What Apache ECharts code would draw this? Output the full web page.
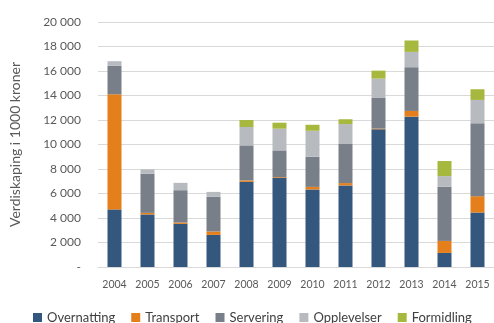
<!DOCTYPE html>
<html>
<head>
<meta charset="utf-8">
<script src="https://cdn.jsdelivr.net/npm/echarts@6/dist/echarts.min.js"></script>
<style>
  html, body { margin: 0; padding: 0; background: #fff; }
  #chart { width: 494px; height: 323px; }
</style>
</head>
<body>
<div id="chart"></div>
<script>
// Value added per sector, in 1000 NOK
const years = ['2004', '2005', '2006', '2007', '2008', '2009', '2010', '2011', '2012', '2013', '2014', '2015'];
const overnatting = [4700, 4290, 3520, 2620, 6950, 7280, 6330, 6660, 11240, 12270, 1150, 4450];
const transport   = [9400, 130, 110, 280, 120, 60, 210, 190, 60, 470, 980, 1330];
const servering   = [2320, 3190, 2640, 2830, 2860, 2180, 2460, 3190, 2500, 3570, 4420, 5950];
const opplevelser = [380, 360, 600, 400, 1500, 1770, 2120, 1630, 1580, 1250, 870, 1910];
const formidling  = [0, 0, 0, 0, 570, 490, 490, 390, 650, 930, 1230, 870];

const seriesDefs = [
  { name: 'Overnatting', data: overnatting, color: '#34577e' },
  { name: 'Transport',   data: transport,   color: '#e47f1b' },
  { name: 'Servering',   data: servering,   color: '#787f88' },
  { name: 'Opplevelser', data: opplevelser, color: '#b7bbc0' },
  { name: 'Formidling',  data: formidling,  color: '#a6b83d' }
];

const fontFamily = 'Lato, "Open Sans", sans-serif';

// Norwegian style: space as thousands separator, dash for zero
function formatThousands(v) {
  if (v === 0) return '-';
  return String(v).replace(/\B(?=(\d{3})+(?!\d))/g, ' ');
}

const chart = echarts.init(document.getElementById('chart'), null, { renderer: 'canvas' });
chart.setOption({
  animation: false,
  textStyle: { fontFamily: fontFamily },
  grid: { left: 96, width: 402, top: 22, bottom: 56 },
  legend: {
    top: 306,
    left: 28,
    itemWidth: 9,
    itemHeight: 9,
    itemGap: 16,
    icon: 'rect',
    textStyle: { fontSize: 13, color: '#404040', fontFamily: fontFamily },
    data: seriesDefs.map(s => s.name)
  },
  xAxis: {
    type: 'category',
    data: years,
    axisTick: { show: false },
    axisLine: { show: true, lineStyle: { color: '#d9d9d9' } },
    axisLabel: { color: '#595959', fontSize: 10.5, margin: 12, interval: 0 }
  },
  yAxis: {
    type: 'value',
    min: 0,
    max: 20000,
    interval: 2000,
    name: 'Verdiskaping i 1000 kroner',
    nameLocation: 'middle',
    nameGap: 76,
    nameRotate: 90,
    nameTextStyle: { fontSize: 14, color: '#595959' },
    axisLine: { show: false },
    axisTick: { show: false },
    splitLine: { lineStyle: { color: '#d9d9d9', width: 1 } },
    axisLabel: {
      color: '#595959',
      fontSize: 12,
      margin: 17,
      formatter: formatThousands
    }
  },
  series: seriesDefs.map(s => ({
    name: s.name,
    type: 'bar',
    stack: 'total',
    barWidth: 14,
    data: s.data,
    itemStyle: { color: s.color }
  }))
});
</script>
</body>
</html>
